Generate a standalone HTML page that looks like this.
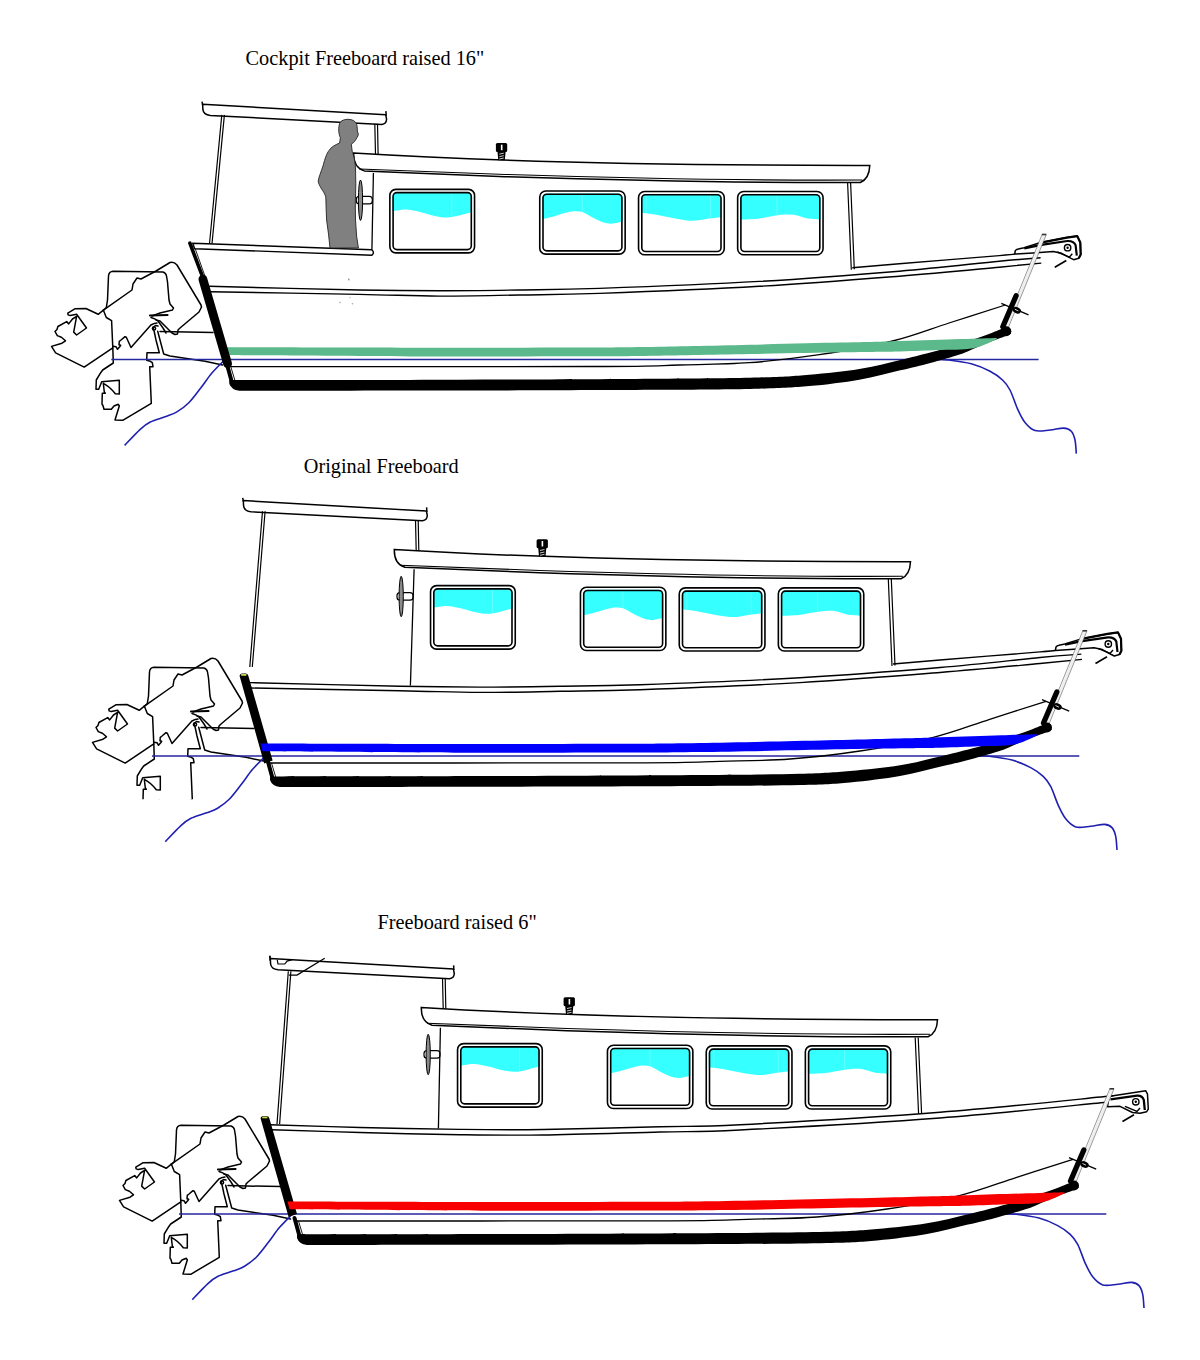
<!DOCTYPE html>
<html><head><meta charset="utf-8"><title>Freeboard comparison</title>
<style>
html,body{margin:0;padding:0;background:#fff;}
body{width:1200px;height:1360px;overflow:hidden;position:relative;}
svg{position:absolute;left:0;top:0;}
.t{font-family:"Liberation Serif",serif;font-size:20.3px;fill:#000;}
</style></head><body>
<svg width="1200" height="1360" viewBox="0 0 1200 1360">
<defs>
<g id="motor">
<g fill="none" stroke="#000" stroke-width="1.5" stroke-linejoin="round" stroke-linecap="round">
<path d="M103.4,310.2 L106.3,307.6 L107.5,300 L108.5,276 Q109,271.5 113,271.3 L163,272 Q166,273 166.5,276 L167.5,282 L169,300 L170,304 L173.5,308 L172.5,310 L160,313 L152,316"/>
<path d="M103.4,310.2 L132,290 L133,284 L137,278 L141,279 L156,271 L170,262.5 Q174,261.5 177,265 L201,305 L201.5,307 L199,312 L180,328 L178,330 L177.5,334 L175,334.5 L172,333 L160,321 L156,320"/>
<path d="M103.4,310.2 L98.2,314.3 L85.9,308.5 L74.8,308.8 L67.8,313.1 L68.1,314.9 L70.2,315.6 L76.6,314.3 L86.5,328 L76.6,335 L73.7,332.1 L76.6,316.3 L72.5,319 L68.7,323.9 L66.7,321.6 L57.9,326.5 L57,329.5 L55,331.5 L57.3,335.6 L61.4,337.3 L65.5,340.8 L62,343.2 L51.5,346.4 L55.6,352.8 L84.2,367.1 L112.8,347.8"/>
<path d="M103.4,310.2 L106.3,317.5 L111.6,320.7 L112.8,347.8 L113.3,363 L102.7,370 L100.7,372.7 L96.3,380 L96,389.3 L98.7,389.3 L101.7,381.7 L119.3,380.3 L119.3,394 L115.3,393.7 Q110,386.7 103.3,383.3 L104.3,392 L105.3,393.3 L102.3,393.3 L102,404 L103,405.7 L104,409.3 L111.3,409.3 L114,406 L118.3,404.3 L119.3,406 L115,420 L122.7,420.3 L151.3,403.3 L149.7,366.7 L153,366.7 L152.3,362.7 L150.3,361.3 L146.7,360.3 L147,352.7 L159.3,352.7 L156,340 L154.3,332 L153,327.3 L155.5,325.5 L158,326"/>
<path d="M113,346.3 L116,346.7 L117.5,349.3 L119.7,346.7 L120.7,345.3 L119,344.7 L119.3,341.3 L121,340 L125,336.7 L126.3,337.3 L131,347.5 L150.9,325 L154.4,323.4 L157,323.1"/>
<path d="M157.7,331.3 L163.7,354 L170,356 L205,361.3 L222.5,365"/>
<path d="M160,331.6 L213,332.6"/>
<path d="M151,317.5 Q155,318.5 158,321 L163,328 L166,333"/>
<circle cx="154" cy="328.5" r="1.6"/>
</g>
<path d="M150,315.5 L167.5,315" stroke="#000" stroke-width="2.2" stroke-linecap="round"/>
</g>
<clipPath id="mclip2"><rect x="0" y="0" width="400" height="799.2"/></clipPath>

<g id="base"><path d="M243.3,500.6 L426.4,511.1 L427.3,515.5 Q427,520.2 422.5,520.7 L251,511.8 Q244.2,511 243.6,506 Z" fill="#fff" stroke="#000" stroke-width="1.5" stroke-linejoin="round"/><path d="M242.7,497.9 L243.4,501.5 M426.6,507.4 L426.9,512" stroke="#000" stroke-width="1.5" fill="none"/>
<path d="M415.5,520 L416.3,555 M418.2,520 L418.9,555" stroke="#000" stroke-width="1.2" fill="none"/>
<path d="M394.3,549.4 Q600,562 910.5,561.7 Q910,575 901,578.8 Q750,579.5 540,572.8 L405,567.2 Q394,564 394.3,549.4 Z" fill="#fff" stroke="#000" stroke-width="1.5"/>
<path d="M400,565.3 L540,570.5 Q750,577.2 903,576.3" stroke="#000" stroke-width="1.1" fill="none"/>
<rect x="536.6" y="539.2" width="11.3" height="9" rx="1.5" fill="#000"/><rect x="541.6" y="541" width="1.6" height="5.5" fill="#fff"/>
<path d="M538.2,548 L546.3,548 L545.5,556.5 L539,556.5 Z" fill="#000"/><path d="M540,550.5 L544.5,549.5 M540,553 L544.5,552 M540,555.3 L544.5,554.3" stroke="#fff" stroke-width="0.8"/>
<clipPath id="c429_584"><rect x="433.09999999999997" y="588.1999999999999" width="79.60000000000004" height="58.40000000000005" rx="4.5"/></clipPath>
<g clip-path="url(#c429_584)"><path d="M432.09999999999997,587.1999999999999 L513.7,587.1999999999999 L513.70,608.50 C513.42,608.50 514.40,607.93 512.00,608.50 C509.60,609.07 503.30,611.02 499.30,611.90 C495.30,612.78 491.75,613.68 488.00,613.80 C484.25,613.92 481.17,613.48 476.80,612.60 C472.43,611.72 466.80,609.62 461.80,608.50 C456.80,607.38 451.50,606.08 446.80,605.90 C442.10,605.72 436.05,607.15 433.60,607.40 C431.15,607.65 432.35,607.40 432.10,607.40 Z" fill="#36ffff"/><path d="M492.5,588.1999999999999 L492.5,612.5" stroke="#80ffff" stroke-width="0.6"/></g>
<rect x="430.55" y="585.65" width="84.70000000000003" height="63.50000000000004" rx="6" fill="none" stroke="#000" stroke-width="1.6"/>
<rect x="433.8" y="588.9" width="78.20000000000003" height="57.00000000000004" rx="3.8" fill="none" stroke="#000" stroke-width="1.6"/>

<clipPath id="c579_586"><rect x="583.0" y="589.8" width="80.30000000000003" height="58.09999999999998" rx="4.5"/></clipPath>
<g clip-path="url(#c579_586)"><path d="M582.0,588.8 L664.3000000000001,588.8 L664.30,618.00 C663.92,618.00 663.88,617.68 662.00,618.00 C660.12,618.32 655.75,619.72 653.00,619.90 C650.25,620.08 648.62,620.03 645.50,619.10 C642.38,618.17 638.05,616.10 634.30,614.30 C630.55,612.50 626.75,609.37 623.00,608.30 C619.25,607.23 616.17,607.28 611.80,607.90 C607.43,608.52 601.30,610.82 596.80,612.00 C592.30,613.18 587.27,614.50 584.80,615.00 C582.33,615.50 582.47,615.00 582.00,615.00 Z" fill="#36ffff"/><path d="M623,589.8 L623,608" stroke="#80ffff" stroke-width="0.6"/></g>
<rect x="580.45" y="587.25" width="85.40000000000002" height="63.199999999999974" rx="6" fill="none" stroke="#000" stroke-width="1.6"/>
<rect x="583.7" y="590.5" width="78.90000000000002" height="56.699999999999974" rx="3.8" fill="none" stroke="#000" stroke-width="1.6"/>

<clipPath id="c678_587"><rect x="681.8" y="590.4" width="80.59999999999998" height="58.09999999999998" rx="4.5"/></clipPath>
<g clip-path="url(#c678_587)"><path d="M680.8,589.4 L763.4,589.4 L763.40,613.50 C762.88,613.50 762.82,613.25 760.30,613.50 C757.78,613.75 752.18,614.43 748.30,615.00 C744.42,615.57 740.75,616.65 737.00,616.90 C733.25,617.15 730.17,617.00 725.80,616.50 C721.43,616.00 715.80,614.83 710.80,613.90 C705.80,612.97 700.43,611.65 695.80,610.90 C691.17,610.15 685.50,609.65 683.00,609.40 C680.50,609.15 681.17,609.40 680.80,609.40 Z" fill="#36ffff"/><path d="M686.8,590.4 L686.8,609" stroke="#80ffff" stroke-width="0.6"/><path d="M751.3,590.4 L751.3,614.5" stroke="#80ffff" stroke-width="0.6"/></g>
<rect x="679.25" y="587.85" width="85.69999999999997" height="63.199999999999974" rx="6" fill="none" stroke="#000" stroke-width="1.6"/>
<rect x="682.5" y="591.1" width="79.19999999999997" height="56.699999999999974" rx="3.8" fill="none" stroke="#000" stroke-width="1.6"/>

<clipPath id="c777_587"><rect x="780.9" y="590.4" width="80.30000000000003" height="58.09999999999998" rx="4.5"/></clipPath>
<g clip-path="url(#c777_587)"><path d="M779.9,589.4 L862.2,589.4 L862.20,615.80 C861.72,615.80 861.78,616.00 859.30,615.80 C856.82,615.60 851.18,615.35 847.30,614.60 C843.42,613.85 839.75,611.92 836.00,611.30 C832.25,610.68 828.55,610.72 824.80,610.90 C821.05,611.08 817.88,611.72 813.50,612.40 C809.12,613.08 803.62,614.43 798.50,615.00 C793.38,615.57 785.90,615.67 782.80,615.80 C779.70,615.93 780.38,615.80 779.90,615.80 Z" fill="#36ffff"/><path d="M817.6,590.4 L817.6,611.5" stroke="#80ffff" stroke-width="0.6"/></g>
<rect x="778.35" y="587.85" width="85.40000000000002" height="63.199999999999974" rx="6" fill="none" stroke="#000" stroke-width="1.6"/>
<rect x="781.6" y="591.1" width="78.90000000000002" height="56.699999999999974" rx="3.8" fill="none" stroke="#000" stroke-width="1.6"/>

<rect x="397" y="592.6" width="16" height="7.6" rx="3" fill="#fff" stroke="#000" stroke-width="1.2"/>
<ellipse cx="401.2" cy="596.5" rx="2.1" ry="20.2" fill="#8a8a8a" stroke="#000" stroke-width="1"/>
<path d="M152,755.9 L1079.3,755.9" stroke="#26269e" stroke-width="1.5" fill="none"/>
<path d="M264.20,757.30 C262.23,759.35 256.20,765.10 252.40,769.60 C248.60,774.10 245.22,779.40 241.40,784.30 C237.58,789.20 233.47,795.02 229.50,799.00 C225.53,802.98 221.42,805.90 217.60,808.20 C213.78,810.50 211.03,811.12 206.60,812.80 C202.17,814.48 195.28,816.17 191.00,818.30 C186.72,820.43 185.18,821.70 180.90,825.60 C176.62,829.50 167.90,839.02 165.30,841.70 " stroke="#2020b0" stroke-width="1.6" fill="none"/>
<path d="M978.00,755.90 C979.70,755.95 982.53,755.50 988.20,756.20 C993.87,756.90 1004.92,758.20 1012.00,760.10 C1019.08,762.00 1025.50,764.90 1030.70,767.60 C1035.90,770.30 1039.87,773.18 1043.20,776.30 C1046.53,779.42 1048.20,781.50 1050.70,786.30 C1053.20,791.10 1055.70,799.68 1058.20,805.10 C1060.70,810.52 1062.78,815.17 1065.70,818.80 C1068.62,822.43 1071.53,825.65 1075.70,826.90 C1079.87,828.15 1085.90,826.72 1090.70,826.30 C1095.50,825.88 1100.95,824.18 1104.50,824.40 C1108.05,824.62 1110.13,825.62 1112.00,827.60 C1113.87,829.58 1114.87,832.57 1115.70,836.30 C1116.53,840.03 1116.78,847.72 1117.00,850.00 " stroke="#2020b0" stroke-width="1.6" fill="none"/>
<path d="M268.00,763.00 C328.67,762.97 556.67,763.08 632.00,762.80 C707.33,762.52 693.67,761.93 720.00,761.30 C746.33,760.67 766.67,760.72 790.00,759.00 C813.33,757.28 836.12,754.62 860.00,751.00 C883.88,747.38 911.68,742.58 933.30,737.30 C954.92,732.02 970.92,725.30 989.70,719.30 C1008.48,713.30 1036.62,704.30 1046.00,701.30 " stroke="#000" stroke-width="1.3" fill="none"/>
<path d="M270.00,776.40 C308.33,776.33 428.33,776.23 500.00,776.00 C571.67,775.77 650.00,775.37 700.00,775.00 C750.00,774.63 775.00,774.47 800.00,773.80 C825.00,773.13 833.33,772.42 850.00,771.00 C866.67,769.58 884.83,767.77 900.00,765.30 C915.17,762.83 929.17,758.97 941.00,756.20 C952.83,753.43 961.00,751.27 971.00,748.70 C981.00,746.13 993.50,743.08 1001.00,740.80 C1008.50,738.52 1011.00,736.85 1016.00,735.00 C1021.00,733.15 1026.00,731.62 1031.00,729.70 C1036.00,727.78 1043.50,724.53 1046.00,723.50 L1052.00,729.50 C1051.00,730.00 1049.50,731.08 1046.00,732.50 C1042.50,733.92 1036.00,736.05 1031.00,738.00 C1026.00,739.95 1021.00,742.12 1016.00,744.20 C1011.00,746.28 1008.50,748.00 1001.00,750.50 C993.50,753.00 981.00,756.52 971.00,759.20 C961.00,761.88 952.83,763.80 941.00,766.60 C929.17,769.40 915.17,773.37 900.00,776.00 C884.83,778.63 866.67,780.90 850.00,782.40 C833.33,783.90 825.00,784.38 800.00,785.00 C775.00,785.62 750.00,785.80 700.00,786.10 C650.00,786.40 570.00,786.65 500.00,786.80 C430.00,786.95 316.67,786.97 280.00,787.00 Q272,786 270,780 Z" fill="#000"/>
<path d="M267.5,760 L273,780" stroke="#000" stroke-width="4" stroke-linecap="round"/><path d="M271.5,763 L276,778" stroke="#000" stroke-width="0.9"/>
<path d="M1095.5,663.5 L1107,656.8" stroke="#000" stroke-width="1.7" fill="none"/></g>
</defs>
<g><g clip-path="url(#mclip2)"><use href="#motor" transform="translate(41,396)"/></g>
<use href="#base"/>
<g><path d="M1055.4,650.4 L1056,647 Q1057,645.5 1059,645.2 L1064.8,644 L1080.5,639.1 L1107.5,633.9 L1118,632.4 L1121,638.8 L1121.4,650.8 L1119.5,654.5 L1114.3,656 L1111.3,654.5 L1102.3,649.6 L1094,647.8 L1073.8,649.3 Z" fill="#fff" stroke="#000" stroke-width="1.5" stroke-linejoin="round"/><path d="M1065,644.6 L1082,641.2 L1108,637.3 Q1114.5,637 1116.3,641.5 L1117.5,652" stroke="#000" stroke-width="2.2" fill="none"/><path d="M1080.5,639.1 L1107.5,633.9 L1118,632.4 L1121,638.8 L1121.4,650.8 L1119.5,654.5" stroke="#000" stroke-width="2.2" fill="none" stroke-linejoin="round"/><path d="M1098,648.3 L1110,653.5 L1113,650" stroke="#000" stroke-width="1.4" fill="none"/><circle cx="1108.3" cy="644" r="3.2" fill="#fff" stroke="#000" stroke-width="1.4"/><circle cx="1108.3" cy="644" r="1.2" fill="#000"/></g>
<path d="M262.5,511.2 L249.8,667 M265.1,511.2 L252.3,667" stroke="#000" stroke-width="1.2" fill="none"/>
<path d="M414.1,569.3 L410.4,685.4" stroke="#000" stroke-width="1.3"/>
<path d="M888.3,579 L892,666 M891.3,579 L895,665.5" stroke="#000" stroke-width="1.2"/>
<path d="M249.80,682.60 C274.83,683.22 361.63,685.55 400.00,686.30 C438.37,687.05 453.33,687.10 480.00,687.10 C506.67,687.10 533.33,686.70 560.00,686.30 C586.67,685.90 600.00,686.13 640.00,684.70 C680.00,683.27 750.00,680.57 800.00,677.70 C850.00,674.83 900.00,670.87 940.00,667.50 C980.00,664.13 1016.45,659.73 1040.00,657.50 C1063.55,655.27 1074.42,654.67 1081.30,654.10 " stroke="#000" stroke-width="1.4" fill="none"/>
<path d="M250.60,688.00 C275.50,688.45 361.77,689.97 400.00,690.70 C438.23,691.43 453.33,692.30 480.00,692.40 C506.67,692.50 533.33,691.75 560.00,691.30 C586.67,690.85 600.00,691.15 640.00,689.70 C680.00,688.25 750.00,685.47 800.00,682.60 C850.00,679.73 900.00,675.68 940.00,672.50 C980.00,669.32 1016.33,665.68 1040.00,663.50 C1063.67,661.32 1075.00,660.08 1082.00,659.40 " stroke="#000" stroke-width="1.4" fill="none"/>
<path d="M893.00,664.00 C900.83,663.33 915.50,662.02 940.00,660.00 C964.50,657.98 1020.75,653.50 1040.00,651.90 C1059.25,650.30 1052.92,650.65 1055.50,650.40 " stroke="#000" stroke-width="1.4" fill="none"/>
<path d="M239.6,676 Q239.8,673.4 242.3,673.4 L245.8,673.4 Q248,673.4 248.4,676 L272.6,760.5 L264.2,763.5 Z" fill="#000"/>
<rect x="241.2" y="674" width="5.2" height="1.8" fill="#c9d34e"/>
<path d="M260.50,743.50 C293.75,743.58 401.75,743.95 460.00,744.00 C518.25,744.05 570.00,743.97 610.00,743.80 C650.00,743.63 654.83,743.82 700.00,743.00 C745.17,742.18 840.83,739.87 881.00,738.90 C921.17,737.93 921.00,737.80 941.00,737.20 C961.00,736.60 985.00,735.80 1001.00,735.30 C1017.00,734.80 1031.00,734.38 1037.00,734.20 L1038.00,735.00 C1034.00,736.58 1024.00,742.62 1014.00,744.50 C1004.00,746.38 990.17,745.77 978.00,746.30 C965.83,746.83 957.17,747.32 941.00,747.70 C924.83,748.08 921.17,747.88 881.00,748.60 C840.83,749.32 745.17,751.35 700.00,752.00 C654.83,752.65 650.00,752.38 610.00,752.50 C570.00,752.62 517.92,752.90 460.00,752.70 C402.08,752.50 295.42,751.53 262.50,751.30 Z" fill="#0000fc"/>
<path d="M1082.6,631.3 L1086.8,631.3 L1049,724 L1045.2,723 Z" fill="#fff" stroke="#444" stroke-width="0.55"/><path d="M1084.1,632 L1046.6,723.5 M1085.5,632 L1047.9,723.7" stroke="#bbb" stroke-width="0.35"/><rect x="1082.5" y="630" width="4.6" height="1.4" fill="#333"/><path d="M1056.8,692 L1043.5,723" stroke="#000" stroke-width="5.3" stroke-linecap="round"/><circle cx="1047" cy="727.5" r="5" fill="#000"/><path d="M1042,699.6 L1069.2,711.2" stroke="#000" stroke-width="1.3"/><ellipse cx="1057.5" cy="706.5" rx="4.4" ry="3.1" fill="#000" transform="rotate(25 1057.5 706.5)"/><path d="M1055.5,705.5 L1059,707.2" stroke="#fff" stroke-width="0.8"/></g>
<g><use href="#motor"/>
<g transform="translate(-40.7,-396.3)">
<use href="#base"/>
<path d="M264.00,743.50 C296.67,743.58 402.33,743.95 460.00,744.00 C517.67,744.05 570.00,743.97 610.00,743.80 C650.00,743.63 654.83,743.82 700.00,743.00 C745.17,742.18 840.83,739.87 881.00,738.90 C921.17,737.93 921.00,737.80 941.00,737.20 C961.00,736.60 985.00,735.80 1001.00,735.30 C1017.00,734.80 1031.00,734.38 1037.00,734.20 L1038.00,735.00 C1034.00,736.58 1024.00,742.62 1014.00,744.50 C1004.00,746.38 990.17,745.77 978.00,746.30 C965.83,746.83 957.17,747.32 941.00,747.70 C924.83,748.08 921.17,747.88 881.00,748.60 C840.83,749.32 745.17,751.35 700.00,752.00 C654.83,752.65 650.00,752.38 610.00,752.50 C570.00,752.62 517.33,752.90 460.00,752.70 C402.67,752.50 298.33,751.53 266.00,751.30 Z" fill="#5cb98b"/>
<g><path d="M1055.4,650.4 L1056,647 Q1057,645.5 1059,645.2 L1064.8,644 L1080.5,639.1 L1107.5,633.9 L1118,632.4 L1121,638.8 L1121.4,650.8 L1119.5,654.5 L1114.3,656 L1111.3,654.5 L1102.3,649.6 L1094,647.8 L1073.8,649.3 Z" fill="#fff" stroke="#000" stroke-width="1.5" stroke-linejoin="round"/><path d="M1065,644.6 L1082,641.2 L1108,637.3 Q1114.5,637 1116.3,641.5 L1117.5,652" stroke="#000" stroke-width="2.2" fill="none"/><path d="M1080.5,639.1 L1107.5,633.9 L1118,632.4 L1121,638.8 L1121.4,650.8 L1119.5,654.5" stroke="#000" stroke-width="2.2" fill="none" stroke-linejoin="round"/><path d="M1098,648.3 L1110,653.5 L1113,650" stroke="#000" stroke-width="1.4" fill="none"/><circle cx="1108.3" cy="644" r="3.2" fill="#fff" stroke="#000" stroke-width="1.4"/><circle cx="1108.3" cy="644" r="1.2" fill="#000"/></g>
<path d="M262.5,511.2 L250.2,640 M265.1,511.2 L252.7,640" stroke="#000" stroke-width="1.2" fill="none"/>
<path d="M414.1,569.3 L412.6,646" stroke="#000" stroke-width="1.3"/>
<path d="M888.3,579 L892,666 M891.3,579 L895,665.5" stroke="#000" stroke-width="1.2"/>
<path d="M249.80,682.60 C274.83,683.22 361.63,685.55 400.00,686.30 C438.37,687.05 453.33,687.10 480.00,687.10 C506.67,687.10 533.33,686.70 560.00,686.30 C586.67,685.90 600.00,686.13 640.00,684.70 C680.00,683.27 750.00,680.57 800.00,677.70 C850.00,674.83 900.00,670.87 940.00,667.50 C980.00,664.13 1016.45,659.73 1040.00,657.50 C1063.55,655.27 1074.42,654.67 1081.30,654.10 " stroke="#000" stroke-width="1.4" fill="none"/>
<path d="M250.60,688.00 C275.50,688.45 361.77,689.97 400.00,690.70 C438.23,691.43 453.33,692.30 480.00,692.40 C506.67,692.50 533.33,691.75 560.00,691.30 C586.67,690.85 600.00,691.15 640.00,689.70 C680.00,688.25 750.00,685.47 800.00,682.60 C850.00,679.73 900.00,675.68 940.00,672.50 C980.00,669.32 1016.33,665.68 1040.00,663.50 C1063.67,661.32 1075.00,660.08 1082.00,659.40 " stroke="#000" stroke-width="1.4" fill="none"/>
<path d="M893.00,664.00 C900.83,663.33 915.50,662.02 940.00,660.00 C964.50,657.98 1020.75,653.50 1040.00,651.90 C1059.25,650.30 1052.92,650.65 1055.50,650.40 " stroke="#000" stroke-width="1.4" fill="none"/>
<path d="M243.6,675.5 L268.3,760" stroke="#000" stroke-width="8.8" stroke-linecap="round"/>
<path d="M230.6,639.5 L244,675" stroke="#000" stroke-width="3.6" stroke-linecap="round"/><path d="M234.3,640.5 L245.5,672" stroke="#000" stroke-width="0.9"/>
<path d="M233.4,639.5 L412.5,646 Q415.8,648.8 412.5,651.5 L235.4,645 Z" fill="#fff" stroke="#000" stroke-width="1.4" stroke-linejoin="round"/>
<path d="M1082.6,631.3 L1086.8,631.3 L1049,724 L1045.2,723 Z" fill="#fff" stroke="#444" stroke-width="0.55"/><path d="M1084.1,632 L1046.6,723.5 M1085.5,632 L1047.9,723.7" stroke="#bbb" stroke-width="0.35"/><rect x="1082.5" y="630" width="4.6" height="1.4" fill="#333"/><path d="M1056.8,692 L1043.5,723" stroke="#000" stroke-width="5.3" stroke-linecap="round"/><circle cx="1047" cy="727.5" r="5" fill="#000"/><path d="M1042,699.6 L1069.2,711.2" stroke="#000" stroke-width="1.3"/><ellipse cx="1057.5" cy="706.5" rx="4.4" ry="3.1" fill="#000" transform="rotate(25 1057.5 706.5)"/><path d="M1055.5,705.5 L1059,707.2" stroke="#fff" stroke-width="0.8"/>
</g>
<path d="M348.1,119.3 C343,119.3 339.6,121.5 339.2,125 C338.3,129 338.5,134 340.4,137.8 L339.6,143 C335,145 331,147 329,150.5 C327,153 325,158 323,166 C321,172 318.5,178 318.2,181.1 C318.5,184 320,186 321,188 C323,191 325,194 325.8,197 L326.2,210 L326.6,220 L328.5,234 L330,248 L358.4,248 L356.6,236 L355.5,220 L355.3,205 L355.8,185 L355.5,168 C355,160 353.5,155 352.2,151.2 L351.3,144.2 C352.5,143.2 354,142.5 354.5,141.5 L356.9,137.8 C357.5,137 358.3,135 358.4,134.2 L357.3,131 C357.5,128 357,125 356.3,123.4 C355,121 352,119.3 348.1,119.3 Z" fill="#808080" stroke="#222" stroke-width="0.9"/>
<circle cx="348.8" cy="279.5" r="0.9" fill="#999"/><circle cx="340" cy="302.5" r="0.8" fill="#aaa"/><circle cx="352.5" cy="303.8" r="0.8" fill="#aaa"/><circle cx="350" cy="297.5" r="0.7" fill="#bbb"/></g>
<g><use href="#motor" transform="translate(68,854)"/>
<g transform="translate(27,458)">
<use href="#base"/>
<g><path d="M1081.5,641.5 L1083,638.3 L1118.8,632.8 L1120.5,636.2 L1121.3,651.2 L1119.7,653.7 L1113,655.3 L1105.5,654.5 L1093,648.3 L1080.5,648.7 Z" fill="#fff" stroke="#000" stroke-width="1.5" stroke-linejoin="round"/><path d="M1083.5,641.3 L1110,637.6 Q1115.5,637.4 1116.8,642 L1117.8,652" stroke="#000" stroke-width="2.3" fill="none"/><path d="M1098,648.3 L1110,653.5 L1113,650" stroke="#000" stroke-width="1.4" fill="none"/><circle cx="1108.8" cy="643.8" r="3.2" fill="#fff" stroke="#000" stroke-width="1.4"/><circle cx="1108.8" cy="643.8" r="1.2" fill="#000"/></g>
<path d="M261.3,513.2 L250,666.2 M263.9,513.2 L252.6,666.2" stroke="#000" stroke-width="1.2" fill="none"/>
<path d="M413.4,569.8 L411.4,670.4" stroke="#000" stroke-width="1.3"/>
<path d="M888.2,579.5 L891.6,656 M891.2,579.5 L894.6,655.5" stroke="#000" stroke-width="1.2"/>
<path d="M243.00,666.70 C258.00,667.17 301.33,668.72 333.00,669.50 C364.67,670.28 402.50,671.07 433.00,671.40 C463.50,671.73 482.67,671.95 516.00,671.50 C549.33,671.05 600.17,669.50 633.00,668.70 C665.83,667.90 666.33,669.12 713.00,666.70 C759.67,664.28 850.78,659.02 913.00,654.20 C975.22,649.38 1057.42,640.53 1086.30,637.80 " stroke="#000" stroke-width="1.4" fill="none"/>
<path d="M244.70,671.70 C259.42,672.17 301.62,673.67 333.00,674.50 C364.38,675.33 402.50,676.28 433.00,676.70 C463.50,677.12 482.67,677.45 516.00,677.00 C549.33,676.55 600.17,674.83 633.00,674.00 C665.83,673.17 666.33,674.33 713.00,672.00 C759.67,669.67 851.55,664.67 913.00,660.00 C974.45,655.33 1053.58,646.67 1081.70,644.00 " stroke="#000" stroke-width="1.4" fill="none"/>
<path d="M233.6,660.5 Q233.8,657.9 236.3,657.9 L239.8,657.9 Q242,657.9 242.4,660.5 L270,756 L261.6,759 Z" fill="#000"/>
<rect x="235.2" y="658.5" width="5.2" height="1.8" fill="#c9d34e"/>
<path d="M260.50,743.50 C293.75,743.58 401.75,743.95 460.00,744.00 C518.25,744.05 570.00,743.97 610.00,743.80 C650.00,743.63 654.83,743.82 700.00,743.00 C745.17,742.18 840.83,739.87 881.00,738.90 C921.17,737.93 921.00,737.80 941.00,737.20 C961.00,736.60 985.00,735.80 1001.00,735.30 C1017.00,734.80 1031.00,734.38 1037.00,734.20 L1038.00,735.00 C1034.00,736.58 1024.00,742.62 1014.00,744.50 C1004.00,746.38 990.17,745.77 978.00,746.30 C965.83,746.83 957.17,747.32 941.00,747.70 C924.83,748.08 921.17,747.88 881.00,748.60 C840.83,749.32 745.17,751.35 700.00,752.00 C654.83,752.65 650.00,752.38 610.00,752.50 C570.00,752.62 517.92,752.90 460.00,752.70 C402.08,752.50 295.42,751.53 262.50,751.30 Z" fill="#f80000"/>
<path d="M261.8,517.1 L270,517.1 L297.7,500.2" stroke="#000" stroke-width="1.3" fill="none"/><path d="M250.2,501.6 L251,506 L257.8,506 L260.1,503.1 L265.3,501.6" stroke="#000" stroke-width="1.2" fill="none"/><path d="M242.9,497.8 L243.2,503" stroke="#000" stroke-width="1.3"/>
<path d="M1082.6,631.3 L1086.8,631.3 L1049,724 L1045.2,723 Z" fill="#fff" stroke="#444" stroke-width="0.55"/><path d="M1084.1,632 L1046.6,723.5 M1085.5,632 L1047.9,723.7" stroke="#bbb" stroke-width="0.35"/><rect x="1082.5" y="630" width="4.6" height="1.4" fill="#333"/><path d="M1056.8,692 L1043.5,723" stroke="#000" stroke-width="5.3" stroke-linecap="round"/><circle cx="1047" cy="727.5" r="5" fill="#000"/><path d="M1042,699.6 L1069.2,711.2" stroke="#000" stroke-width="1.3"/><ellipse cx="1057.5" cy="706.5" rx="4.4" ry="3.1" fill="#000" transform="rotate(25 1057.5 706.5)"/><path d="M1055.5,705.5 L1059,707.2" stroke="#fff" stroke-width="0.8"/>
</g></g>
<text class="t" x="303.8" y="473.2">Original Freeboard</text>
<text class="t" x="245.6" y="65.2">Cockpit Freeboard raised 16"</text>
<text class="t" x="377.5" y="928.8">Freeboard raised 6"</text>
</svg></body></html>
